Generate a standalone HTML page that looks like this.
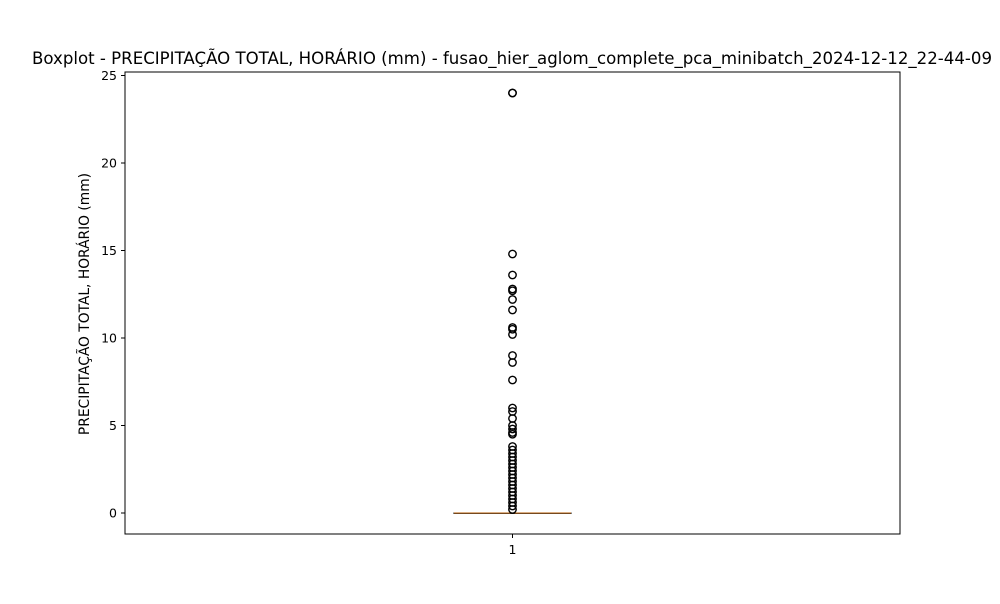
<!DOCTYPE html>
<html><head><meta charset="utf-8"><style>
body{margin:0;background:#fff;font-family:"DejaVu Sans","Liberation Sans",sans-serif}
</style></head><body>
<svg id="chart" width="1000" height="600" xmlns="http://www.w3.org/2000/svg" font-family="DejaVu Sans, Liberation Sans, sans-serif">
<rect width="1000" height="600" fill="#fff"/>
<text x="512" y="64" text-anchor="middle" font-size="16.6">Boxplot - PRECIPITAÇÃO TOTAL, HORÁRIO (mm) - fusao_hier_aglom_complete_pca_minibatch_2024-12-12_22-44-09</text>
<text transform="translate(89,304) rotate(-90)" text-anchor="middle" font-size="13.8">PRECIPITAÇÃO TOTAL, HORÁRIO (mm)</text>
<g id="yticks"></g>
<g id="marks"></g>
<rect x="125" y="72" width="775" height="462" fill="none" stroke="#000" stroke-width="1"/>
<line x1="512.5" y1="534" x2="512.5" y2="538" stroke="#000"/>
<text x="512.5" y="554" text-anchor="middle" font-size="12.5">1</text>
</svg>
<script>
const yTicks=[0,5,10,15,20,25];
const categories=["1"];
const boxStats=[0,0,0,0,0]; // whiskerLow,q1,median,q3,whiskerHigh
const outliers=[24,24,14.8,13.6,12.8,12.7,12.2,11.6,10.6,10.5,10.2,9.0,8.6,7.6,6.0,5.8,5.4,5.0,4.8,4.6,4.5,3.8,3.6,3.4,3.2,3.0,2.8,2.6,2.4,2.2,2.0,1.8,1.6,1.4,1.2,1.0,0.8,0.6,0.4,0.2];
const ns="http://www.w3.org/2000/svg";
const y=v=>513-v*17.5;
const x=i=>512.5+i*775;
const yt=document.getElementById('yticks');
yTicks.forEach(t=>{
 const l=document.createElementNS(ns,'line');
 
 
 l.setAttribute('x1',121);l.setAttribute('x2',125);l.setAttribute('y1',y(t));l.setAttribute('y2',y(t));l.setAttribute('stroke','#000');
 yt.appendChild(l);
 const tx=document.createElementNS(ns,'text');
 
 
 tx.setAttribute('x',117);tx.setAttribute('y',y(t)+4.5);tx.setAttribute('text-anchor','end');tx.setAttribute('font-size','12.5');
 tx.textContent=t;yt.appendChild(tx);
});
const m=document.getElementById('marks');
categories.forEach((c,i)=>{
 const cx=x(i);
 const box=document.createElementNS(ns,'rect');
 
 
 box.setAttribute('x',cx-58.5);box.setAttribute('width',117);
 box.setAttribute('y',y(boxStats[3]));box.setAttribute('height',Math.max(0.5,y(boxStats[1])-y(boxStats[3])));
 box.setAttribute('fill','none');box.setAttribute('stroke','#000');box.setAttribute('stroke-width','1');
 m.appendChild(box);
 const cap=document.createElementNS(ns,'line');
 
 
 cap.setAttribute('x1',cx-29);cap.setAttribute('x2',cx+29);cap.setAttribute('y1',y(boxStats[0]));cap.setAttribute('y2',y(boxStats[0]));cap.setAttribute('stroke','#000');
 m.appendChild(cap);
 const med=document.createElementNS(ns,'line');
 
 
 med.setAttribute('x1',cx-58.5);med.setAttribute('x2',cx+58.5);med.setAttribute('y1',y(boxStats[2]));med.setAttribute('y2',y(boxStats[2]));med.setAttribute('stroke','#e08a3a');med.setAttribute('stroke-width','1.2');med.setAttribute('opacity','0.85');
 m.appendChild(med);
 outliers.forEach(v=>{
  const o=document.createElementNS(ns,'circle');
  
  
  o.setAttribute('cx',cx);o.setAttribute('cy',y(v));o.setAttribute('r',3.7);
  o.setAttribute('fill','none');o.setAttribute('stroke','#000');o.setAttribute('stroke-width','1.4');
  m.appendChild(o);
 });
});
</script>
</body></html>
